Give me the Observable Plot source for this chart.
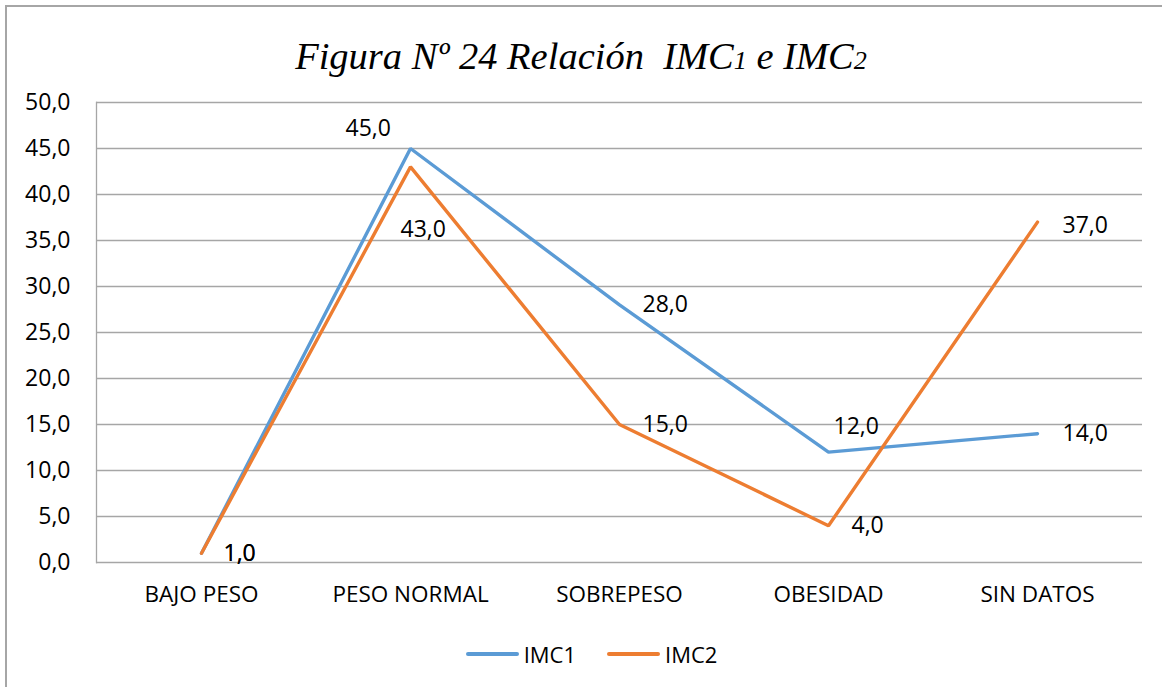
<!DOCTYPE html>
<html>
<head>
<meta charset="utf-8">
<script src="https://cdn.jsdelivr.net/npm/d3@7"></script>
<script src="https://cdn.jsdelivr.net/npm/@observablehq/plot@0.6"></script>
<style>
  html, body { margin: 0; padding: 0; background: #fff; }
  #wrap { position: relative; width: 1162px; height: 687px; overflow: hidden; background: #fff; }
  #frame { position: absolute; left: 5px; top: 5px; width: 1200px; height: 720px; border-left: 2px solid #a6a6a6; border-top: 2px solid #a6a6a6; box-sizing: border-box; }
  #title { position: absolute; left: 0; width: 1162px; top: 37px; text-align: center; font-family: "Liberation Serif", "Times New Roman", serif; font-style: italic; font-size: 38.5px; color: #000; line-height: 1; white-space: pre; }
  #title .s { font-size: 0.68em; }
  #chart { position: absolute; left: 0; top: 0; }
  #legend { position: absolute; top: 639px; left: 0; width: 1162px; padding-left: 21px; box-sizing: border-box; display: flex; justify-content: center; gap: 31px; font-family: "Open Sans", sans-serif; font-size: 22px; color: #000; }
  #legend .item { display: flex; align-items: center; gap: 5px; }
  #legend .sw { width: 53px; height: 3.4px; border-radius: 2px; }
</style>
</head>
<body>
<div id="wrap">
  <div id="frame"></div>
  <div id="title">Figura Nº 24 Relación  IMC<span class="s">1</span> e IMC<span class="s">2</span></div>
  <div id="chart"></div>
  <div id="legend"></div>
</div>
<script>
const categories = ["BAJO PESO", "PESO NORMAL", "SOBREPESO", "OBESIDAD", "SIN DATOS"];
const seriesNames = ["IMC1", "IMC2"];
const imc1 = [1, 45, 28, 12, 14];
const imc2 = [1, 43, 15, 4, 37];
const yTicks = [0, 5, 10, 15, 20, 25, 30, 35, 40, 45, 50];

const colors = { IMC1: "#5B9BD5", IMC2: "#ED7D31" };

// label offsets (styling only), relative to each point
const labelOffsets = {
  IMC1: [[22, 0], [-65, -20], [23, 0], [5, -25], [25, 0]],
  IMC2: [[22, 0], [-10, 63], [23, 0], [23, 0], [25, 4]]
};

const data = [];
[imc1, imc2].forEach((vals, s) => {
  vals.forEach((v, i) => data.push({ series: seriesNames[s], cat: categories[i], value: v, i }));
});

const fmt = d => d.toFixed(1).replace(".", ",");
const font = "'Open Sans', sans-serif";
const fs = 23;

const labelMarks = data.map(d => {
  const [dx, dy] = labelOffsets[d.series][d.i];
  return Plot.text([d], {
    x: "cat", y: "value", text: d => fmt(d.value),
    dx, dy, textAnchor: "start", fill: "#000", fontSize: fs, fontFamily: font
  });
});

const plot = Plot.plot({
  width: 1162,
  height: 620,
  marginLeft: 96,
  marginRight: 20,
  marginTop: 102,
  marginBottom: 58,
  style: { background: "transparent", fontFamily: font, color: "#000", overflow: "visible" },
  x: { type: "point", domain: categories, padding: 0.5, label: null },
  y: { domain: [0, 50], label: null },
  marks: [
    Plot.gridY(yTicks, { stroke: "#a6a6a6", strokeOpacity: 1, strokeWidth: 1.3 }),
    Plot.frame({ anchor: "left", stroke: "#a6a6a6", strokeWidth: 1.3 }),
    Plot.axisY(yTicks, { tickSize: 0, tickPadding: 26, tickFormat: fmt, fontSize: fs, fontFamily: font, fill: "#000" }),
    Plot.axisX(categories, { tickSize: 0, tickPadding: 24, fontSize: fs - 0.5, fontFamily: font, fill: "#000" }),
    Plot.line(data, { x: "cat", y: "value", z: "series", stroke: d => colors[d.series], strokeWidth: 3.4, strokeLinecap: "round", strokeLinejoin: "miter" }),
    ...labelMarks
  ]
});

document.getElementById("chart").appendChild(plot);

const legend = document.getElementById("legend");
seriesNames.forEach(n => {
  const item = document.createElement("div");
  item.className = "item";
  const sw = document.createElement("div");
  sw.className = "sw";
  sw.style.background = colors[n];
  const t = document.createElement("span");
  t.textContent = n;
  item.appendChild(sw);
  item.appendChild(t);
  legend.appendChild(item);
});
</script>
</body>
</html>
